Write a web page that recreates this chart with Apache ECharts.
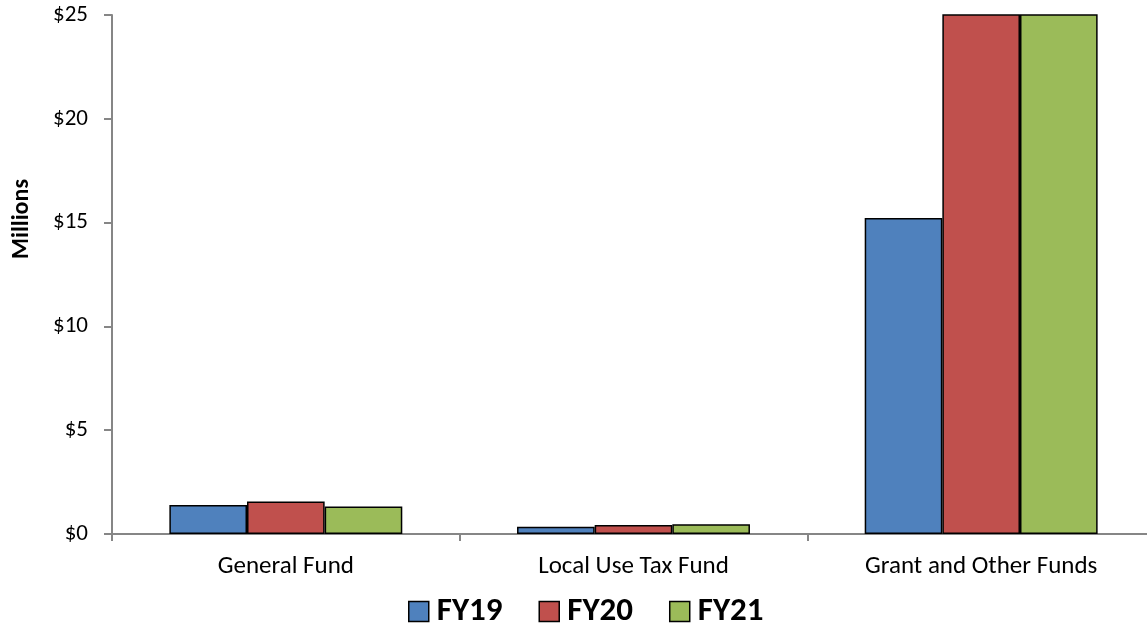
<!DOCTYPE html>
<html><head><meta charset="utf-8">
<script src="https://cdn.jsdelivr.net/npm/echarts@6/dist/echarts.min.js"></script>
<style>html,body{margin:0;padding:0;background:#fff;overflow:hidden}#c{width:1155px;height:632px}</style>
</head><body><div id="c"></div>
<script>
const categories = ["General Fund", "Local Use Tax Fund", "Grant and Other Funds"];
const seriesNames = ["FY19", "FY20", "FY21"];
const fy19 = [1.40, 0.35, 15.22];
const fy20 = [1.57, 0.43, 31.0];
const fy21 = [1.32, 0.47, 30.0];
const yAxisTitle = "Millions";
const colors = ["#4F81BD", "#C0504D", "#9BBB59"];
const font = "Carlito, Lato, 'Open Sans', sans-serif";
const chart = echarts.init(document.getElementById('c'));
const mk = (name, data, i) => ({
  name, type: 'bar', data, barGap: '0%', barCategoryGap: '33%', clip: true,
  itemStyle: { color: colors[i], borderColor: '#000', borderWidth: 1.5 },
  animation: false
});
chart.setOption({
  animation: false,
  grid: { left: 112, right: 0, top: 15, bottom: 98, containLabel: false },
  legend: {
    top: 595, left: 408, padding: 0, itemWidth: 20, itemHeight: 20, itemGap: 36,
    icon: 'rect',
    textStyle: { fontFamily: font, fontSize: 33, fontWeight: 'bold', color: '#000', padding: [0, 0, 0, 3] },
    itemStyle: { borderColor: '#000', borderWidth: 1.5 },
    data: seriesNames
  },
  graphic: [{
    type: 'text', x: 22, y: 219, rotation: Math.PI / 2,
    style: { text: yAxisTitle, fontFamily: font, fontSize: 24, fontWeight: 'bold', fill: '#000', align: 'center', verticalAlign: 'middle' }
  }],
  xAxis: {
    type: 'category', data: categories,
    axisLine: { lineStyle: { color: '#868686', width: 2 } },
    axisTick: { show: true, length: 7, lineStyle: { color: '#868686', width: 2 } },
    axisLabel: { fontFamily: font, fontSize: 25, color: '#000', margin: 20 }
  },
  yAxis: {
    type: 'value', min: 0, max: 25, interval: 5,
    axisLine: { show: true, lineStyle: { color: '#868686', width: 2 } },
    axisTick: { show: true, length: 8, lineStyle: { color: '#868686', width: 2 } },
    splitLine: { show: false },
    axisLabel: { fontFamily: font, fontSize: 23, color: '#000', margin: 24, formatter: v => '$' + v }
  },
  series: [mk(seriesNames[0], fy19, 0), mk(seriesNames[1], fy20, 1), mk(seriesNames[2], fy21, 2)]
});
</script></body></html>
